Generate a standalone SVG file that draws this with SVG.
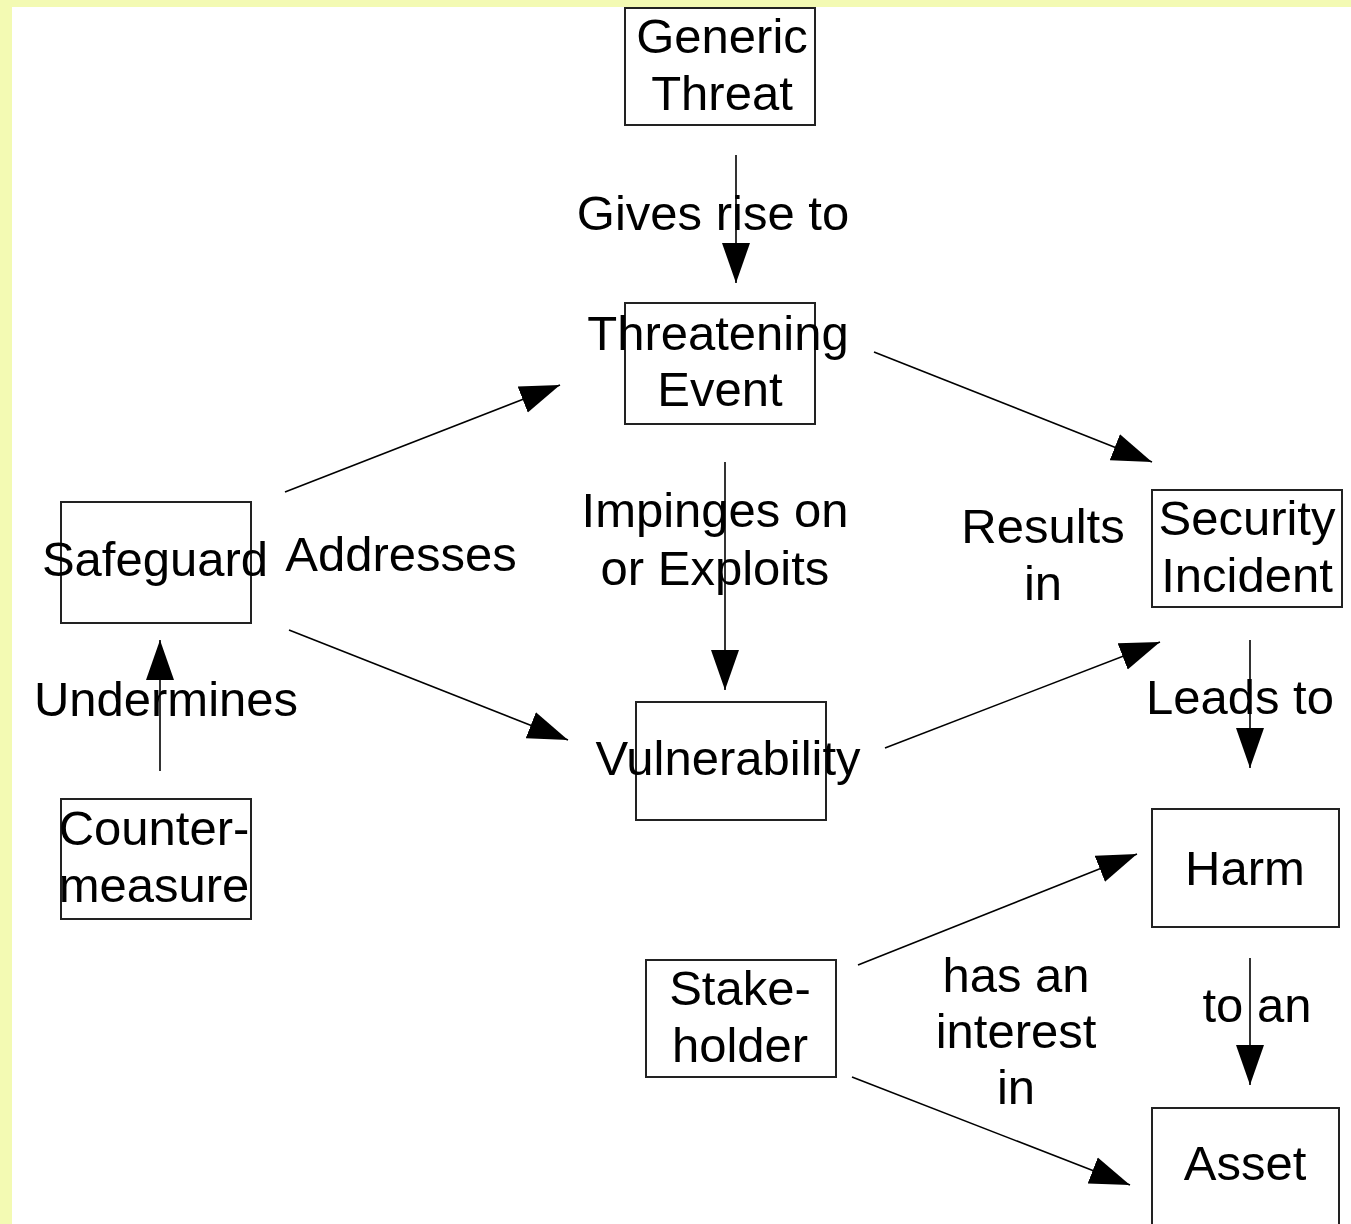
<svg xmlns="http://www.w3.org/2000/svg" width="1351" height="1224" viewBox="0 0 1351 1224">
<style>
.box{fill:none;stroke:#222;stroke-width:2}
.t{font-family:"Liberation Sans",Arial,sans-serif;font-size:49px;fill:#000;text-anchor:middle}
.c{stroke:#000;stroke-width:1.6;fill:none;marker-end:url(#ah)}
</style>
<defs>
<marker id="ah" markerUnits="userSpaceOnUse" markerWidth="40" markerHeight="30" refX="40" refY="15" orient="auto">
<path d="M0,1 L40,15 L0,29 z" fill="#000"/>
</marker>
</defs>
<rect x="0" y="0" width="1351" height="1224" fill="#f3fab3"/>
<rect x="12" y="7" width="1339" height="1217" fill="#fff"/>
<g id="connectors">
<line class="c" x1="736" y1="155" x2="736" y2="283"/>
<line class="c" x1="725" y1="462" x2="725" y2="690"/>
<line class="c" x1="160" y1="771" x2="160" y2="640"/>
<line class="c" x1="1250" y1="640" x2="1250" y2="768"/>
<line class="c" x1="1250" y1="958" x2="1250" y2="1085"/>
<line class="c" x1="285" y1="492" x2="560" y2="385"/>
<line class="c" x1="289" y1="630" x2="568" y2="740"/>
<line class="c" x1="874" y1="352" x2="1152" y2="462"/>
<line class="c" x1="885" y1="748" x2="1160" y2="642"/>
<line class="c" x1="858" y1="965" x2="1137" y2="854"/>
<line class="c" x1="852" y1="1077" x2="1130" y2="1185"/>
</g>
<g id="labels">
<text class="t" x="713" y="230">Gives rise to</text>
<text class="t" x="715" y="527">Impinges on</text>
<text class="t" x="715" y="585">or Exploits</text>
<text class="t" x="401" y="571">Addresses</text>
<text class="t" x="166" y="716">Undermines</text>
<text class="t" x="1043" y="543">Results</text>
<text class="t" x="1043" y="600">in</text>
<text class="t" x="1240" y="714">Leads to</text>
<text class="t" x="1016" y="992">has an</text>
<text class="t" x="1016" y="1048">interest</text>
<text class="t" x="1016" y="1104">in</text>
<text class="t" x="1257" y="1022">to an</text>
</g>
<g id="generic-threat">
<rect class="box" x="625" y="8" width="190" height="117"/>
<text class="t" x="722" y="53">Generic</text>
<text class="t" x="722" y="110">Threat</text>
</g>
<g id="threatening-event">
<rect class="box" x="625" y="303" width="190" height="121"/>
<text class="t" x="718" y="350">Threatening</text>
<text class="t" x="720" y="406">Event</text>
</g>
<g id="safeguard">
<rect class="box" x="61" y="502" width="190" height="121"/>
<text class="t" x="155" y="576">Safeguard</text>
</g>
<g id="countermeasure">
<rect class="box" x="61" y="799" width="190" height="120"/>
<text class="t" x="154" y="845">Counter-</text>
<text class="t" x="154" y="902">measure</text>
</g>
<g id="vulnerability">
<rect class="box" x="636" y="702" width="190" height="118"/>
<text class="t" x="728" y="775">Vulnerability</text>
</g>
<g id="security-incident">
<rect class="box" x="1152" y="490" width="190" height="117"/>
<text class="t" x="1247" y="535">Security</text>
<text class="t" x="1247" y="592">Incident</text>
</g>
<g id="harm">
<rect class="box" x="1152" y="809" width="187" height="118"/>
<text class="t" x="1245" y="885">Harm</text>
</g>
<g id="stakeholder">
<rect class="box" x="646" y="960" width="190" height="117"/>
<text class="t" x="740" y="1005">Stake-</text>
<text class="t" x="740" y="1062">holder</text>
</g>
<g id="asset">
<rect class="box" x="1152" y="1108" width="187" height="130"/>
<text class="t" x="1245" y="1180">Asset</text>
</g>
</svg>
